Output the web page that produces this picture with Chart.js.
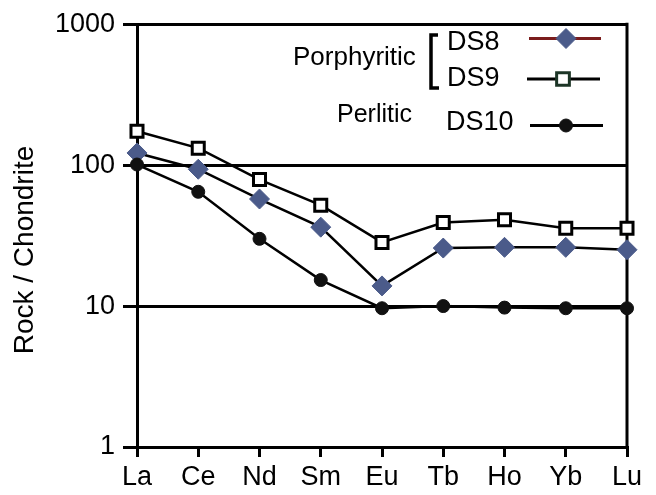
<!DOCTYPE html>
<html>
<head>
<meta charset="utf-8">
<script src="https://cdn.jsdelivr.net/npm/chart.js@4/dist/chart.umd.min.js"></script>
<style>
  html, body { margin: 0; padding: 0; background: #fff; }
  #wrap { width: 656px; height: 495px; position: relative; }
</style>
</head>
<body>
<div id="wrap"><canvas id="c"></canvas></div>
<script>
// ---- data ----
const categories = ["La", "Ce", "Nd", "Sm", "Eu", "Tb", "Ho", "Yb", "Lu"];
const ds8Values  = [122, 93.5, 57.5, 36.3, 13.9, 25.8, 26.1, 26.1, 25.1];
const ds9Values  = [174, 132, 79, 52, 28.3, 39.1, 40.9, 35.7, 35.7];
const ds10Values = [101, 64.7, 30, 15.3, 9.65, 10.0, 9.75, 9.65, 9.65];
const yTickValues = [1, 10, 100, 1000];
const yTitle = "Rock / Chondrite";
const groupLabels = ["Porphyritic", "Perlitic"];
const seriesNames = ["DS8", "DS9", "DS10"];

const FONT = "'Liberation Sans', Arial, Helvetica, sans-serif";
const DIAMOND = "#4b5b8a";

const decorPlugin = {
  id: 'decor',
  beforeDatasetsDraw(chart) {
    const ctx = chart.ctx, a = chart.chartArea;
    ctx.save();
    ctx.strokeStyle = '#000';
    ctx.lineWidth = 3;
    ctx.beginPath();
    ctx.moveTo(a.right, a.top - 1.5);
    ctx.lineTo(a.right, a.bottom + 1.5);
    ctx.stroke();
    ctx.restore();
  },
  afterDraw(chart) {
    const ctx = chart.ctx;
    ctx.save();
    // y title
    ctx.fillStyle = '#000';
    ctx.font = "28px " + FONT;
    ctx.textAlign = 'center';
    ctx.textBaseline = 'middle';
    ctx.translate(25, 250);
    ctx.rotate(-Math.PI / 2);
    ctx.fillText(yTitle, 0, 0);
    ctx.restore();

    ctx.save();
    ctx.fillStyle = '#000';
    ctx.textBaseline = 'middle';
    ctx.textAlign = 'left';
    // group labels
    ctx.font = "26px " + FONT;
    ctx.fillText(groupLabels[0], 293, 58);
    ctx.font = "25px " + FONT;
    ctx.fillText(groupLabels[1], 337, 115);
    // series names
    ctx.font = "27px " + FONT;
    ctx.fillText(seriesNames[0], 447, 43);
    ctx.fillText(seriesNames[1], 447, 79);
    ctx.fillText(seriesNames[2], 446, 123);
    // bracket
    ctx.strokeStyle = '#000';
    ctx.lineWidth = 3.5;
    ctx.beginPath();
    ctx.moveTo(438, 35);
    ctx.lineTo(431, 35);
    ctx.lineTo(431, 88);
    ctx.lineTo(439, 88);
    ctx.stroke();
    // sample lines
    ctx.lineWidth = 3;
    ctx.strokeStyle = '#7a1c1c';
    ctx.beginPath(); ctx.moveTo(529, 38.5); ctx.lineTo(601, 38.5); ctx.stroke();
    ctx.strokeStyle = '#000';
    ctx.beginPath(); ctx.moveTo(527, 79); ctx.lineTo(600, 79); ctx.stroke();
    ctx.beginPath(); ctx.moveTo(530, 125.5); ctx.lineTo(603, 125.5); ctx.stroke();
    // sample markers
    const H = Chart.helpers;
    ctx.fillStyle = DIAMOND; ctx.strokeStyle = DIAMOND; ctx.lineWidth = 1;
    H.drawPoint(ctx, {pointStyle: 'rectRot', radius: 10, borderWidth: 1}, 566, 38.5);
    ctx.fillStyle = '#fff'; ctx.strokeStyle = '#1c3526'; ctx.lineWidth = 3;
    H.drawPoint(ctx, {pointStyle: 'rect', radius: 9, borderWidth: 3}, 563, 79);
    ctx.fillStyle = '#111'; ctx.strokeStyle = '#111'; ctx.lineWidth = 1;
    H.drawPoint(ctx, {pointStyle: 'circle', radius: 6.5, borderWidth: 1}, 566, 125.5);
    ctx.restore();
  }
};

new Chart(document.getElementById('c'), {
  type: 'line',
  data: {
    labels: categories,
    datasets: [
      {
        label: seriesNames[2], data: ds10Values,
        borderColor: '#000', borderWidth: 2.5, tension: 0,
        pointStyle: 'circle', pointRadius: 6.5,
        pointBackgroundColor: '#111', pointBorderColor: '#111', pointBorderWidth: 1,
        clip: false
      },
      {
        label: seriesNames[0], data: ds8Values,
        borderColor: '#000', borderWidth: 2.5, tension: 0,
        pointStyle: 'rectRot', pointRadius: 10,
        pointBackgroundColor: DIAMOND, pointBorderColor: DIAMOND, pointBorderWidth: 1,
        clip: false
      },
      {
        label: seriesNames[1], data: ds9Values,
        borderColor: '#000', borderWidth: 2.5, tension: 0,
        pointStyle: 'rect', pointRadius: 8.5,
        pointBackgroundColor: '#fff', pointBorderColor: '#000', pointBorderWidth: 3,
        clip: false
      }
    ]
  },
  options: {
    responsive: true,
    maintainAspectRatio: false,
    animation: false,
    events: [],
    layout: { padding: { left: 0, right: 29, top: 21, bottom: 0 } },
    plugins: { legend: { display: false }, tooltip: { enabled: false }, title: { display: false } },
    scales: {
      x: {
        type: 'category',
        offset: false,
        grid: { drawOnChartArea: false, drawTicks: true, tickLength: 10, color: '#000', lineWidth: 3 },
        border: { display: true, color: '#000', width: 3 },
        ticks: { color: '#000', font: { family: FONT, size: 27 }, padding: 4, maxRotation: 0, autoSkip: false },
        afterFit(s) { s.height = 48; }
      },
      y: {
        type: 'logarithmic',
        min: 1, max: 1000,
        afterBuildTicks(s) { s.ticks = yTickValues.map(v => ({ value: v })); },
        grid: { color: '#000', lineWidth: 3, tickLength: 14, drawTicks: true },
        border: { display: true, color: '#000', width: 3 },
        ticks: {
          color: '#000', font: { family: FONT, size: 27 }, padding: 8,
          callback: (v) => String(v)
        },
        afterFit(s) { s.width = 137; }
      }
    }
  },
  plugins: [decorPlugin]
});
</script>
</body>
</html>
